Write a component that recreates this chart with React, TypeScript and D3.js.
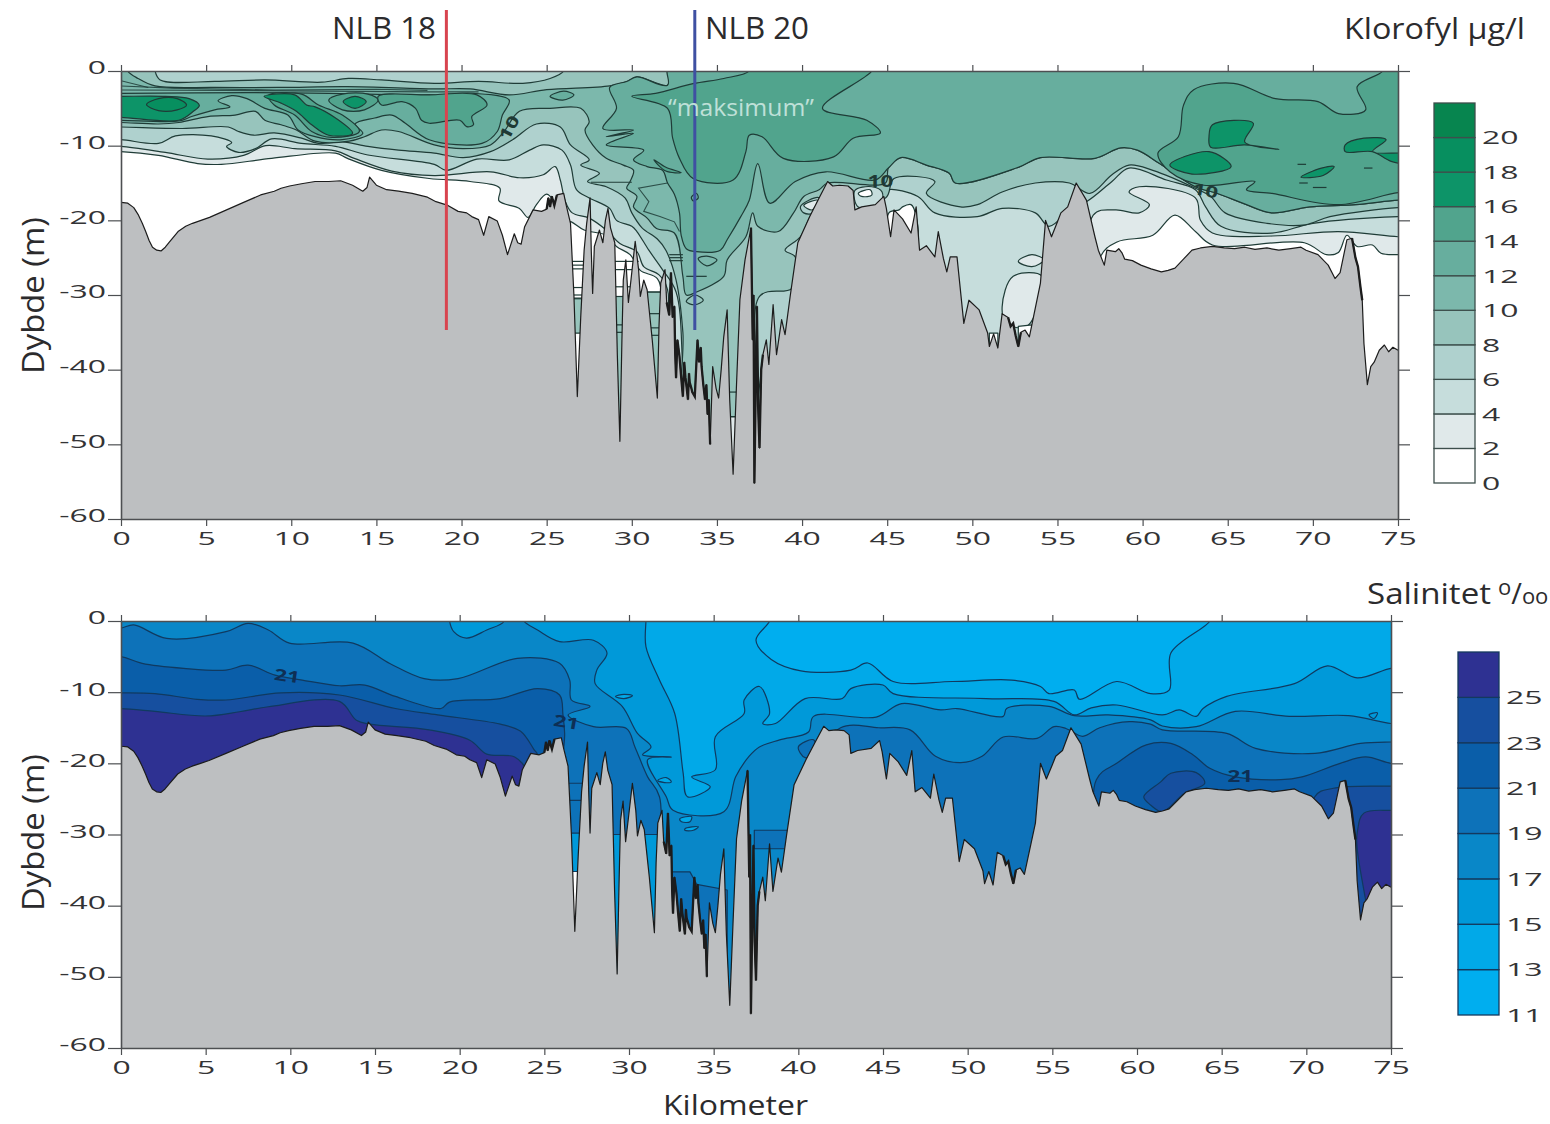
import React, { useEffect, useRef } from "react";
import * as d3 from "d3";

type Pt = [number, number];

// seabed profile, km along the section and depth in metres
const seabed: Pt[] = [
  [0, 17.6], [0.4, 17.7], [0.75, 18.3], [1, 19.2], [1.25, 20.4], [1.45, 21.5], [1.65, 22.7], [1.85, 23.6], [2.1, 24], [2.35, 24.1], [2.6, 23.6], [2.85, 22.9], [3.35, 21.5],
  [3.8, 20.8], [4.2, 20.4], [4.7, 20], [5.2, 19.6], [6.2, 18.6], [7.2, 17.6], [8.2, 16.6], [9, 16.1], [9.4, 15.7], [9.9, 15.4], [10.6, 15.1], [11.4, 14.8],
  [12.2, 14.8], [12.9, 14.7], [13.6, 15.3], [14.2, 16.1], [14.45, 15.6], [14.6, 14.2], [15, 15.3], [15.6, 15.9], [16.3, 16.1], [17.1, 16.4],
  [18, 16.9], [18.5, 17.5], [19.2, 18], [19.8, 18.8], [20.3, 19], [20.6, 19.5], [21, 19.9], [21.3, 22], [21.6, 19.5], [22.1, 20.1],
  [22.4, 22], [22.7, 24.6], [23.1, 21.8], [23.3, 23], [23.5, 23.2], [23.7, 20.9], [24.2, 18.6], [24.7, 18.8], [25, 18.5], [25.1, 17],
  [25.2, 18.2], [25.3, 16.8], [25.45, 18], [25.6, 16.6], [26, 16.4], [26.15, 18], [26.4, 20.4], [26.6, 30], [26.8, 43.6], [27, 33],
  [27.2, 24], [27.35, 20.4], [27.55, 17], [27.62, 24], [27.7, 29.8], [27.8, 23.5], [28.1, 21.3], [28.3, 23], [28.45, 20], [28.6, 18.4],
  [28.75, 21], [29, 23], [29.15, 38], [29.3, 49.6], [29.42, 36], [29.5, 28], [29.65, 25.3], [29.8, 31], [29.95, 28], [30.2, 22.8],
  [30.4, 26.6], [30.5, 30.2], [30.7, 28], [30.9, 29.3], [31.2, 36], [31.5, 43.8], [31.6, 34], [31.7, 28.4], [31.95, 26.6], [32.05, 31], [32.2, 32.7],
  [32.3, 27], [32.4, 33], [32.5, 31.5], [32.55, 38], [32.6, 41.1], [32.68, 36], [32.8, 38.2], [32.9, 41], [33, 43.6], [33.08, 39], [33.15, 41], [33.3, 44], [33.36, 40.5], [33.4, 41.7], [33.5, 42.5], [33.55, 43], [33.7, 43.6],
  [33.86, 36], [33.95, 39], [34.05, 37], [34.1, 39.6], [34.2, 42], [34.3, 44], [34.38, 42], [34.45, 46], [34.52, 44], [34.6, 50], [34.75, 39.6], [34.95, 42.5], [35.1, 43.8], [35.25, 40], [35.4, 35.6],
  [35.6, 32], [35.75, 44], [35.95, 54], [36.15, 42], [36.35, 30.6], [36.65, 25.3], [37, 21], [37.1, 36], [37.15, 30], [37.2, 55.2], [37.28, 42], [37.35, 31.5], [37.42, 45],
  [37.5, 50.5], [37.6, 40], [37.7, 38], [37.9, 36], [38.05, 39.3], [38.3, 31.3], [38.5, 38], [38.8, 33.3], [39, 35.3], [39.3, 30.2], [39.75, 23],
  [40.45, 19.5], [41, 17], [41.5, 14.8], [41.8, 15.4], [42.2, 15.3], [42.7, 15.4], [43, 16], [43.1, 18.6], [43.5, 18.2], [44.3, 17.9],
  [44.8, 16.8], [44.95, 18.4], [45.2, 22.2], [45.4, 18.6], [45.9, 19.8], [46.4, 21.7], [46.7, 18.2], [46.9, 24], [47.3, 23.4], [47.8, 24.9],
  [48, 21.5], [48.3, 25.1], [48.5, 26.9], [48.7, 24.9], [49.1, 24.9], [49.5, 33.8], [49.8, 30.7], [50.4, 32], [50.9, 35.1], [51, 36.9], [51.25, 35.2],
  [51.5, 37.1], [51.75, 32.5], [52.1, 33], [52.25, 34.2], [52.4, 33.8], [52.55, 35.5], [52.7, 36.9], [52.85, 35], [53.1, 34.7], [53.35, 35.6], [54, 28.4], [54.3, 20], [54.65, 22.2],
  [55, 20.2], [55.2, 19], [55.6, 18.2], [56.1, 15], [56.7, 17.3], [57.2, 22.2], [57.4, 24], [57.75, 26], [57.9, 24], [58.4, 24.2], [58.6, 23.8], [58.8, 24.4],
  [58.95, 25.2], [59.4, 25.4], [59.9, 26], [60.5, 26.5], [61.1, 26.9], [61.5, 26.7], [61.9, 26.4], [62.4, 25.2], [62.9, 24], [63.4, 23.7], [64.1, 23.5], [64.8, 23.7], [65.4, 23.8],
  [66, 23.6], [66.6, 23.9], [67.3, 23.7], [68, 24], [68.7, 23.8], [69.3, 23.6], [69.6, 24], [70.3, 24.6], [70.9, 26], [71.3, 27.8], [71.6, 27], [72, 22.6], [72.3, 22.4], [72.5, 25], [72.65, 26.2],
  [72.8, 29], [72.9, 30.7], [73, 36.5], [73.2, 42], [73.4, 39.6], [73.6, 39], [73.9, 37.4], [74.2, 36.7], [74.45, 37.6], [74.7, 37], [75, 37.4],
];
const seabedHeavy: Pt[] = [[25, 25.7], [32, 34.7], [37, 37.7], [51.9, 53], [72.2, 72.9]];

const chlLevels = [0, 2, 4, 6, 8, 10, 12, 14, 16, 18, 20];
const chlColors = ["#ffffff", "#e0e9ea", "#c6dddc", "#afd1ce", "#97c4bc", "#7cb8ac", "#67ae9e", "#51a48d", "#0d9468", "#078f5f", "#07854f"];
const salLevels = [11, 13, 15, 17, 19, 21, 23, 25];
const salColors = ["#00aeef", "#01a9e8", "#0099d9", "#0987c8", "#0d72b9", "#0a5ea9", "#164f9f", "#2e3192"];
const kmTicks = d3.range(0, 80, 5);
const depthTicks = d3.range(0, 70, 10);

// chlorophyll contours, lower edge of everything at or above the level
const chl2: Pt[] = [[-1, 10.8], [0, 10.8], [2.2, 11.3], [4.5, 12.4], [5.9, 12.5], [8.85, 11.7], [12.6, 11], [13.3, 11.7], [15.3, 13.3], [18.1, 14.4], [20.5, 14.8], [22.25, 15.7], [22.2, 17.4], [23.4, 18.4], [23.9, 19.6], [24.4, 17.9], [25, 16.5], [25.6, 18], [26.1, 20], [26.45, 20.2], [27.2, 21.3], [28.5, 22], [29.1, 23.5], [29.9, 24.6], [30.5, 26.7], [31.5, 27.8], [31.8, 31], [32, 60], [57.4, 60], [57.5, 25], [58.5, 22.9], [60.6, 22], [61.9, 19.3], [63.1, 21.5], [64.1, 23.3], [69.5, 23], [70.8, 24.6], [71.5, 24.3], [72, 22], [72.6, 23.5], [73.5, 23.3], [74, 24.4], [75, 24.6], [76, 24.6]];
const chl4: Pt[] = [[-1, 10.1], [0, 10.1], [2.6, 10.9], [5.1, 11.8], [7.2, 11.3], [8.5, 10], [10.2, 10.4], [12.6, 10.7], [13.7, 11.7], [15.9, 13.4], [18.4, 14], [21.7, 13.5], [23.4, 14.3], [24.8, 13.9], [25.5, 12.8], [25.8, 14.6], [26.1, 17.5], [26.5, 19], [27.5, 19.7], [28.5, 21.3], [29.3, 23.1], [30.3, 24.2], [30.7, 26.2], [31.6, 27.3], [32.1, 29.3], [32.3, 60], [57, 60], [57.1, 19.3], [58.4, 18.6], [59.8, 19], [60.4, 17.9], [59.2, 16.2], [59.8, 15.5], [63.1, 17], [63.4, 20], [64.1, 21.7], [67.6, 22.1], [71.5, 21.5], [75, 22.2], [76, 22.2]];
const chl6: Pt[] = [[-1, 9.2], [0, 9.2], [2.2, 9.7], [3.2, 8.7], [5.3, 8.7], [6.5, 9.6], [6.2, 10.1], [6.9, 10.9], [7.9, 10.4], [8.85, 9.1], [10.6, 9.7], [12.6, 10.1], [14.5, 11.25], [18.4, 12.5], [19.1, 13.3], [20.9, 11.8], [22.8, 11.9], [24, 10.6], [24.8, 9.9], [25.9, 10.6], [26.4, 12.6], [26.75, 15.9], [27.5, 17], [28.7, 18.4], [29.1, 20], [30, 20.8], [30.3, 21.5], [31, 24], [31.8, 26.6], [32.6, 29.6], [33, 40], [33.4, 60], [41, 60], [41, 19], [44.8, 16.5], [45.07, 15.9], [46.8, 16.8], [47.8, 19], [50.3, 19.5], [51.75, 18.4], [53.7, 19], [54.5, 20.8], [56, 18], [56.7, 17.5], [58.2, 14.8], [59.2, 13], [61.4, 14.6], [63.1, 15.9], [63.7, 18.2], [64.6, 20.8], [67.6, 21.7], [70, 20.4], [75, 19.5], [76, 19.5]];
const chl8: Pt[] = [[-1, 7.5], [0, 7.5], [3.6, 7.7], [6.3, 7.5], [6.9, 8.1], [7.8, 8.6], [9, 8.3], [10.6, 9], [11.6, 9.7], [13, 9.5], [14.5, 10.1], [16.3, 10.6], [18.4, 11], [20.1, 11.6], [21.7, 10.8], [23, 9.2], [24.4, 7.1], [25.8, 7.5], [26.4, 9.9], [27.5, 11.9], [27, 12.6], [28.1, 13.7], [27.4, 14.8], [28.5, 15.5], [29.6, 17], [30, 19], [30.6, 21], [31.5, 22.5], [32, 24], [32.6, 28], [33, 35], [33.2, 60], [37.5, 60], [37.5, 30.2], [39.4, 29.1], [39.6, 24.9], [39, 24], [39.9, 22.2], [40.6, 19], [41.5, 17], [44.9, 17], [45.4, 14.4], [47.8, 14.8], [47.3, 16.4], [49.3, 18.2], [50.3, 17.9], [51.75, 16.2], [53.7, 15], [55.7, 15], [56.9, 16.4], [58.2, 13.9], [59.2, 12.6], [60.6, 13.3], [63.1, 15.7], [64, 16.8], [64.85, 19], [67.3, 20.4], [69.55, 20.6], [71, 19.5], [75, 18.3], [76, 18.3]];
// shared eastern stretch of the 10 and 12 lines
const chlEast: Pt[] = [[45.07, 13], [45.8, 11.6], [47.3, 12.6], [48.65, 13.7], [49, 15], [52.7, 12.9], [54, 11.6], [57.2, 11.7], [58.7, 10.3], [59.7, 10.6], [61, 12.4], [63.1, 15.5], [64.4, 16.4], [66.1, 17.9], [67.6, 19], [69.8, 18.2], [72.5, 17.9], [75, 17.3], [76, 17.3]];
const chl10: Pt[] = [[-1, 6.9], [0, 6.9], [2.2, 7.1], [3.4, 6.9], [5.1, 6.1], [6.7, 5.9], [7.9, 5.4], [8.45, 6.6], [9.4, 7.2], [10.3, 7.9], [11.4, 9.4], [13.4, 9.4], [14.3, 8.8], [15.3, 7.9], [16.3, 8.1], [18.4, 9.9], [20.1, 10.4], [21.7, 9.9], [22.5, 8.1], [23.4, 5.4], [25.2, 5], [27, 5], [27.5, 6.8], [27.25, 7.9], [27.7, 9.9], [28.5, 11.7], [29.5, 12.6], [30.1, 13.3], [29.9, 14.8], [29.7, 15.7], [30.3, 16.8], [30.1, 18.2], [30.9, 19.7], [31.45, 21.1], [32.5, 21.7], [33, 27.5], [33.2, 30], [33.8, 29.6], [35.4, 27.5], [35.6, 25.3], [36.7, 22.2], [37.1, 19], [37.4, 20.8], [38.6, 21.5], [39.5, 19], [40.1, 16.8], [41, 15.9], [41.5, 15], [44.9, 15], ...chlEast];
const chl12Center: Pt[] = [[32.2, -1], [32.1, 1.9], [30.3, 0.8], [29.7, 1.4], [28.7, 2.2], [29.1, 5], [28.3, 7.7], [30.1, 7.9], [28.5, 8.8], [30.1, 8.35], [28.5, 9.9], [30.7, 10.6], [30.1, 11.9], [30.9, 12.8], [31.8, 13.3], [32.1, 15], [32.5, 16.5], [32.8, 19], [32.9, 22], [33.2, 23.8], [33.8, 24.2], [35.2, 24], [35.6, 22.6], [36.4, 19.5], [36.9, 17.3], [37.4, 12.4], [38.1, 17.7], [39.6, 14.8], [41.4, 13.5], [44.3, 14.6], ...chlEast, [76, -1]];
const chl12West: Pt[] = [[-1, 3], [0, 3], [7.5, 2.9], [12.2, 3], [18.4, 3.2], [20.7, 3], [22.8, 3.9], [22.4, 5.9], [22.1, 8.1], [21.2, 9.7], [18.1, 9.2], [16.7, 7], [15.9, 5.9], [14.9, 6.3], [13.75, 7.1], [14.2, 8.35], [13, 9.2], [11.4, 8.8], [10.4, 7.9], [9.8, 5.9], [8.45, 5], [7.4, 3.7], [6.5, 3.3], [5.7, 4], [6.4, 4.8], [5.5, 5.2], [4.15, 6.1], [3.4, 6.7], [0, 6.6], [-1, 6.6]];
const chl14West: Pt[] = [[-1, 3.4], [0, 3.4], [2.6, 3.4], [4, 3.7], [4.6, 4.6], [4.25, 5.4], [3.4, 6.6], [0, 6.2], [-1, 6.2]];
const chl14Mid: Pt[] = [[8.65, 3.3], [10.6, 3.1], [11.6, 4.55], [13, 5.9], [14, 8.1], [12.4, 8.9], [11.2, 8.1], [10.2, 5.9], [9, 4.55]];
const chl14Oval: Pt[] = [[12.2, 3.9], [13, 3.1], [14.5, 3.1], [15.1, 3.9], [14.3, 5.2], [13, 5.2]];
const chl14Lobe: Pt[] = [[15.1, 3.4], [18.1, 3.2], [20.9, 3.2], [21.5, 4.55], [20.6, 6.1], [20.7, 7.2], [20.3, 7.45], [19.9, 6.6], [18.1, 7], [17.65, 6.6], [17.3, 5], [16.5, 4.1], [15.3, 4.55]];
const chl14Center: Pt[] = [[36.9, -1], [36.9, 0], [35.4, 1], [33.6, 1.7], [31.4, 3], [30, 3.4], [32.1, 5], [32.4, 9], [32.8, 11.7], [33.6, 14.4], [35.95, 14.6], [36.7, 10.8], [36.9, 8.6], [37.65, 8.8], [38.9, 11.7], [41.85, 11.5], [43, 9], [44.6, 8.3], [43.8, 6.6], [41.2, 5], [44.1, 0], [44.2, -1]];
const chl14East: Pt[] = [[74.1, -1], [74.1, 0], [72.6, 2.1], [73.1, 5.2], [71.5, 5.7], [70.3, 4.1], [67.8, 3.7], [65.35, 1.65], [63, 2.5], [62.4, 4.6], [62.1, 8.8], [60.9, 11], [61.6, 13.5], [63.6, 15.3], [66.6, 14.8], [66.1, 15.9], [67.6, 16.4], [71.5, 17.9], [75, 16.3], [76, 16.3], [76, -1]];
const chl16West: Pt[] = [[1.5, 4.5], [2.2, 3.7], [3.3, 3.7], [3.85, 4.55], [3.3, 5.2], [2.2, 5.3]];
const chl16Mid: Pt[] = [[8.4, 3.4], [10.2, 3.2], [10.9, 4.55], [11.4, 4.8], [12.6, 6.3], [13.6, 8.35], [12.2, 8.6], [11.2, 7.2], [10.3, 5.4], [9.4, 4.3]];
const chl16Oval: Pt[] = [[13.05, 4.1], [13.75, 3.4], [14.4, 4.1], [13.75, 5]];
const chl16BlobA: Pt[] = [[64.1, 7.2], [66.5, 7], [66, 9.5], [68, 10.5], [66, 9.9], [64, 10.2], [63.9, 8.8]];
const chl16BlobB: Pt[] = [[61.6, 12.6], [63.9, 10.8], [65.2, 12.8], [62.9, 13.8]];
const chl16BlobC: Pt[] = [[71.9, 9.9], [73, 9], [74.3, 9.2], [73.5, 10.8], [76, 11.25], [76, 12.4], [74.6, 12.1], [73.5, 10.8], [71.9, 10.8]];
const chl16BlobD: Pt[] = [[69.3, 14.2], [70.5, 13], [71.25, 12.8], [70.6, 14]];
// pale surface water
const chlSurface8: Pt[] = [[0.4, -1], [0.4, 0], [1, 1], [2, 2], [5.5, 2.2], [9.4, 2.2], [13.3, 2.1], [18.4, 2.4], [20.5, 2.4], [22.8, 3.2], [25, 2.5], [28.7, 2], [29.7, 1.4], [30.3, 0.8], [32.1, 1.9], [32.2, 0], [32.2, -1]];
const chlSurface6: Pt[] = [[2, -1], [2, 0], [2.3, 1.2], [5.5, 1.4], [8.45, 1.2], [11.8, 1.5], [13.35, 1], [15.3, 1.2], [18.4, 1.65], [21, 1.4], [23.6, 1.65], [25.2, 1], [26, 0], [26, -1]];
// small closed pockets
const chlPocketA: Pt[] = [[25.2, 3.4], [26, 2.7], [26.6, 3.2], [25.95, 3.9]];
const chlLensA: Pt[] = [[33.9, 25.1], [34.4, 24.8], [35, 25.3], [34.4, 26.1]];
const chlLensB: Pt[] = [[33.2, 30.9], [33.7, 30], [34.2, 30.7], [33.7, 31.3]];
const chlRing: Pt[] = [[33.5, 16.9], [33.8, 16.4], [33.9, 17], [33.6, 17.4]];
const chlLensC: Pt[] = [[31.3, 11.9], [32, 12.9], [32.9, 13.6], [32, 13.4]];
const chlHoleA: Pt[] = [[43.1, 16], [44.1, 15.5], [44.7, 16.2], [44.6, 17.7], [43.3, 18.2]];
const chlHoleB: Pt[] = [[43.3, 16.4], [44, 15.9], [44.1, 16.6], [43.5, 16.8]];
const chlHoleC: Pt[] = [[45.1, 19], [45.7, 18.6], [45.9, 18.2], [46.4, 17.9], [46.7, 19.5], [46.7, 23], [45.2, 22.6]];
const chlTipA: Pt[] = [[39.9, 18.2], [40.4, 17.3], [41, 17], [40.7, 19], [40.1, 19]];
const chlTipB: Pt[] = [[40.1, 18], [40.9, 17.3], [40.6, 18.6]];
const chlBasin: Pt[] = [[52.4, 27.5], [54.1, 27.5], [53.2, 34.2], [52, 33.8], [51.75, 31.6]];
const chlOval: Pt[] = [[52.7, 25.5], [53.5, 24.6], [54.2, 25.3], [53.5, 26.2]];
const chlGapA: Pt[] = [[51, 35.1], [51.5, 35.1], [51.5, 40], [51, 40]];
const chlGapB: Pt[] = [[52.7, 34.2], [53.5, 34], [53.4, 40], [52.7, 40]];
const chlCanyonA: Pt[] = [[26, 30.4], [28, 30.4], [28, 35.1], [26, 35.1]];
const chlCanyonB: Pt[] = [[28.9, 30.2], [30.2, 30.2], [30.2, 60], [28.9, 60]];
const chlCanyonC: Pt[] = [[30.9, 29.6], [32, 29.6], [32, 60], [30.9, 60]];
const chlCanyonD: Pt[] = [[35.5, 46.3], [36.4, 46.3], [36.4, 60], [35.5, 60]];
// [from km, to km, depth]
const chlStripes: [number, number, number][] = [
  [26, 27.4, 25.5], [26, 27.4, 26], [26, 27.4, 26.5], [26, 27.4, 29], [26, 27.4, 30], [26, 27.4, 30.5],
  [28.9, 30.4, 25.5], [28.9, 30.4, 26.6], [28.9, 30.4, 28.9], [28.9, 30.4, 30.2], [29, 30.3, 34], [29, 30.3, 35],
  [30.9, 32, 29.6], [30.9, 32, 32.5], [30.9, 32, 34.4], [30.9, 32, 35.4],
  [32.2, 33, 24.6], [32.2, 33, 25], [32.2, 33, 25.4], [33.2, 34.4, 27.5],
  [35.6, 36.3, 43], [35.7, 36.2, 46.3], [27.6, 30, 14.9],
  [69.1, 69.6, 12.5], [69.2, 69.7, 15], [73, 73.5, 13], [70, 70.8, 15.6],
];
const chlLoose: Pt[][] = [
  [[0, 2.55], [6, 2.6], [12, 2.7], [18, 2.8], [21, 2.8]],
  [[0, 2], [3, 2.3], [9, 2.55], [15, 2.45], [18, 2.6]],
  [[0, 1.3], [1.6, 2.2]],
  [[32.1, 15], [30.4, 15.7], [31, 17.5], [30.7, 18.8], [31.65, 19.5], [32.5, 20.2], [32.8, 21.5]],
];

// salinity contours, lower edge of everything fresher than the level
const sal25: Pt[] = [[-1, 12.3], [0, 12.3], [2, 12.7], [5, 13.35], [7, 12.75], [8.7, 12.05], [12.9, 11.3], [13.9, 13.95], [14.7, 14.5], [18.2, 15.3], [20.6, 16.75], [21.6, 18.7], [23.25, 19.1], [23.9, 20.9], [23.7, 21.4], [24, 60], [72.8, 60], [73, 29.8], [73.4, 27], [75, 26.6], [76, 26.6]];
const sal23: Pt[] = [[-1, 10.1], [0, 10.1], [2, 10.2], [4.5, 11], [6.2, 11.1], [9.45, 10.1], [12.9, 10.4], [16.2, 12.3], [18.7, 13.2], [22.4, 14.5], [23.6, 15.5], [24.4, 18.1], [24.6, 18.8], [24.7, 60], [70, 60], [70.5, 24.7], [71.6, 23.5], [75, 23.2], [76, 23.2]];
const sal21: Pt[] = [[-1, 5], [0, 5], [1.25, 5.95], [3.7, 6.65], [6.2, 6.9], [7.5, 6.2], [9.1, 7.6], [10.7, 8.3], [12.9, 9.1], [14.4, 9], [16.2, 10.6], [18.9, 12.3], [19.4, 11.4], [22.4, 10.9], [24.6, 9.5], [25.9, 10.4], [26.1, 13.2], [26.2, 15.8], [26.25, 60], [57.1, 60], [57.6, 22.3], [58.8, 20], [60.55, 17.4], [62, 17.2], [63.3, 18.8], [64.3, 20.7], [65.8, 21.9], [68.5, 22.3], [69.75, 21.9], [72, 20], [73.5, 19.1], [75, 20], [76, 20]];
const sal19: Pt[] = [[-1, 1], [0, 1], [0.75, 0.55], [2.7, 2.45], [6.2, 1.5], [7.5, 0.33], [8.7, 1.26], [9.95, 3.1], [13.7, 3.1], [15.9, 6], [17.9, 8.1], [19.9, 8.1], [23.4, 5.25], [25.9, 5.95], [26.5, 8.3], [26.6, 11.1], [27.7, 12], [26.4, 13.2], [27.9, 14.85], [29.85, 15.1], [30.35, 17.7], [31.1, 21.9], [31.8, 24.7], [32, 60], [40, 60], [40.5, 22], [42.5, 15], [44.75, 15], [46.6, 15.3], [48.1, 19], [49.6, 19.9], [50.85, 19], [52.1, 16.3], [54.1, 16.5], [55.1, 14.85], [55.8, 15.1], [56.8, 16.2], [57.8, 15], [59.55, 14.15], [60.8, 14.5], [61.5, 15.3], [65.3, 15.8], [67, 17.9], [70.5, 18.6], [73.2, 17.2], [75, 17], [76, 17]];
const sal17: Pt[] = [[23.8, -1], [23.8, 0], [24.6, 1.26], [25.9, 2.9], [27.9, 2.7], [28.7, 4.5], [28.1, 6.9], [28, 8.8], [29.6, 12], [30.5, 15.8], [31.3, 17.7], [30.8, 18.8], [32.5, 19.1], [31.1, 19.5], [32.2, 24.7], [32.6, 26.6], [35.6, 26.8], [36.3, 21.9], [37.1, 19], [37.7, 17.7], [38.9, 16.7], [40.6, 15.6], [40.9, 13.4], [44.6, 13.5], [46.1, 11.6], [48.4, 12.5], [49.35, 12.3], [52.1, 13.4], [52.3, 12.3], [54.8, 12], [56.3, 13.3], [58.3, 13.2], [60.8, 13.9], [61.5, 14.75], [63.5, 14.85], [65.8, 12.7], [69, 13.4], [72.5, 13.3], [75, 14.4], [76, 14.4], [76, -1]];
const sal15: Pt[] = [[31, -1], [31, 0], [31, 3.6], [31.8, 8.3], [32.7, 13], [33.2, 21.4], [33.45, 24.7], [34.8, 23.3], [33.7, 21.9], [35.1, 20.9], [35.1, 16.25], [36.8, 13], [36.8, 11.1], [37.7, 9.2], [38.3, 13], [37.9, 14.4], [38.65, 14.4], [40.4, 10.9], [42.6, 10.9], [43.1, 9.5], [45, 9], [45.6, 10.2], [51.1, 10.9], [55.1, 11.3], [56.3, 13.2], [57.3, 12.2], [58.8, 11.8], [61.5, 13.2], [62.5, 12.5], [63.5, 13.4], [63.9, 12.3], [65.3, 10.6], [69.3, 8.8], [71.25, 6.3], [73, 8], [75, 6.65], [76, 6.65], [76, -1]];
const sal13: Pt[] = [[38.3, -1], [38.3, 0], [37.5, 2.7], [38.4, 5.4], [40.15, 7], [43.1, 6.9], [44.1, 5.9], [45.6, 8.5], [49.1, 8.5], [52.6, 8.3], [54.3, 9.2], [54.8, 10.2], [56.3, 9.7], [56.6, 11], [58.8, 8.5], [60.8, 10.2], [61.9, 9.7], [62, 4.5], [64.3, 0], [64.3, -1]];
const salPatchTop: Pt[] = [[19.4, -1], [19.4, 0], [19.65, 1.5], [20.4, 2.4], [21.6, 1.26], [22.6, 0.1], [22.6, -1]];
const salLensA: Pt[] = [[29.2, 10.6], [29.7, 10.3], [30.2, 10.5], [29.7, 10.9]];
const salLensB: Pt[] = [[31.7, 22.4], [32.2, 22], [32.5, 22.6], [32.1, 22.7]];
const salLensC: Pt[] = [[33, 27.8], [33.7, 27.5], [33.6, 28.2], [33.1, 28.2]];
const salLensD: Pt[] = [[33.3, 29.2], [34.1, 28.9], [33.8, 29.4], [33.3, 29.4]];
const salRing: Pt[] = [[73.7, 13.2], [74.2, 12.9], [74, 13.7]];
const salTip: Pt[] = [[40, 17.7], [40.9, 16.7], [41, 18.5], [40.4, 19.2]];
const salBlob: Pt[] = [[60.4, 24.7], [61.4, 22.6], [62, 21.4], [63.5, 21.3], [64, 22.8], [62.8, 24.2], [61.5, 26.8], [60.8, 25.85]];
const salCanyonA: Pt[] = [[26, 22.8], [27.5, 22.8], [27.5, 25.2], [26, 25.2]];
const salCanyonB: Pt[] = [[26, 29.8], [27.5, 29.8], [27.5, 35.2], [26, 35.2]];
const salCanyonTip: Pt[] = [[26, 35.2], [27.5, 35.2], [27.5, 60], [26, 60]];
const salCanyonC: Pt[] = [[28.9, 30], [30.2, 30], [30.2, 60], [28.9, 60]];
const salCanyonD: Pt[] = [[30.9, 30], [32, 30], [32, 60], [30.9, 60]];
const salDeepA: Pt[] = [[32, 35.25], [33.6, 35.25], [34, 37], [35.8, 37.8], [35.8, 60], [32, 60]];
const salDeepB: Pt[] = [[37.4, 29.4], [39.4, 29.4], [39.4, 32], [37.4, 32]];

type Layer = { pts: Pt[]; band: number; open?: boolean; sharp?: boolean; color?: string };

const chlLayers: Layer[] = [
  { pts: chl2, band: 1, open: true }, { pts: chl4, band: 2, open: true }, { pts: chl6, band: 3, open: true },
  { pts: chl8, band: 4, open: true }, { pts: chl10, band: 5, open: true },
  { pts: chlSurface8, band: 4 }, { pts: chlSurface6, band: 3 }, { pts: chlPocketA, band: 6 },
  { pts: chl12West, band: 6 }, { pts: chl12Center, band: 6 },
  { pts: chl14West, band: 8 }, { pts: chl14Mid, band: 7 }, { pts: chl14Oval, band: 7 }, { pts: chl14Lobe, band: 7 },
  { pts: chl14Center, band: 7 }, { pts: chl14East, band: 7 },
  { pts: chl16West, band: 9 }, { pts: chl16Mid, band: 8 }, { pts: chl16Oval, band: 8 },
  { pts: chl16BlobA, band: 8 }, { pts: chl16BlobB, band: 8 }, { pts: chl16BlobC, band: 8 }, { pts: chl16BlobD, band: 8 },
  { pts: chlLensA, band: 5 }, { pts: chlLensB, band: 4 }, { pts: chlRing, band: 6 }, { pts: chlLensC, band: 7 },
  { pts: chlHoleA, band: 2 }, { pts: chlHoleB, band: 0 }, { pts: chlHoleC, band: 0 }, { pts: chlTipA, band: 3 }, { pts: chlTipB, band: 1 },
  { pts: chlBasin, band: 1 }, { pts: chlOval, band: 1 }, { pts: chlGapA, band: 0, sharp: true }, { pts: chlGapB, band: 0, sharp: true },
  { pts: chlCanyonA, band: 4, sharp: true }, { pts: chlCanyonB, band: 4, sharp: true }, { pts: chlCanyonC, band: 4, sharp: true }, { pts: chlCanyonD, band: 1, sharp: true },
];

const salLayers: Layer[] = [
  { pts: sal25, band: 6, open: true }, { pts: sal23, band: 5, open: true }, { pts: sal21, band: 4, open: true }, { pts: sal19, band: 3, open: true },
  { pts: salDeepA, band: 4, sharp: true }, { pts: salDeepB, band: 4, sharp: true },
  { pts: sal17, band: 2 }, { pts: sal15, band: 1 }, { pts: sal13, band: 0 }, { pts: salPatchTop, band: 2 },
  { pts: salLensA, band: 1 }, { pts: salLensB, band: 1 }, { pts: salLensC, band: 1 }, { pts: salLensD, band: 1 }, { pts: salRing, band: 2 },
  { pts: salTip, band: 4 }, { pts: salBlob, band: 6 },
  { pts: salCanyonA, band: 4, sharp: true }, { pts: salCanyonB, band: 2, sharp: true }, { pts: salCanyonC, band: 2, sharp: true }, { pts: salCanyonD, band: 2, sharp: true },
  { pts: salCanyonTip, band: 0, sharp: true, color: "#ffffff" },
];

const WIDE = 1.68;
const TICK_FONT = "'Open Sans', sans-serif";
const TITLE_FONT = "'Open Sans', sans-serif";
const INK = "#333335";

function drawPanel(
  svg: d3.Selection<SVGSVGElement, unknown, null, undefined>,
  id: string,
  xRange: Pt,
  yRange: Pt,
  layers: Layer[],
  colors: string[],
  baseColor: string,
  lineColor: string,
  stripes: [number, number, number][],
  loose: Pt[][],
) {
  const x = d3.scaleLinear().domain([0, 75]).range(xRange);
  const y = d3.scaleLinear().domain([0, 60]).range(yRange);

  svg.append("clipPath").attr("id", id).append("rect")
    .attr("x", xRange[0]).attr("y", yRange[0])
    .attr("width", xRange[1] - xRange[0]).attr("height", yRange[1] - yRange[0]);

  const plot = svg.append("g").attr("clip-path", `url(#${id})`);
  plot.append("rect").attr("x", xRange[0]).attr("y", yRange[0])
    .attr("width", xRange[1] - xRange[0]).attr("height", yRange[1] - yRange[0]).attr("fill", baseColor);

  const smooth = d3.line<Pt>().x((d) => x(d[0])).y((d) => y(d[1])).curve(d3.curveCatmullRomClosed.alpha(0.5));
  const straight = d3.line<Pt>().x((d) => x(d[0])).y((d) => y(d[1]));

  layers.forEach((l) => {
    const pts: Pt[] = l.open ? [...l.pts, [76, -1], [-1, -1]] : l.pts;
    plot.append("path")
      .attr("d", (l.sharp ? straight(pts) + "Z" : smooth(pts)) as string)
      .attr("fill", l.color ?? colors[l.band])
      .attr("stroke", lineColor)
      .attr("stroke-width", 1.2)
      .attr("stroke-linejoin", "round");
  });

  stripes.forEach(([a, b, d]) => {
    plot.append("line").attr("x1", x(a)).attr("x2", x(b)).attr("y1", y(d)).attr("y2", y(d))
      .attr("stroke", lineColor).attr("stroke-width", 1.2);
  });
  loose.forEach((pts) => {
    plot.append("path").attr("d", straight(pts) as string).attr("fill", "none")
      .attr("stroke", lineColor).attr("stroke-width", 1.1).attr("opacity", 0.85);
  });

  // seabed goes over every contour
  const bed: Pt[] = [[-1, 61], [-1, seabed[0][1]], ...seabed, [76, seabed[seabed.length - 1][1]], [76, 61]];
  plot.append("path").attr("d", straight(bed) + "Z").attr("fill", "#bdbfc1");
  plot.append("path").attr("d", straight(seabed) as string).attr("fill", "none")
    .attr("stroke", "#1c1c1c").attr("stroke-width", 1.2).attr("stroke-linejoin", "round");
  seabedHeavy.forEach(([a, b]) => {
    const seg = seabed.filter((p) => p[0] >= a && p[0] <= b);
    plot.append("path").attr("d", straight(seg) as string).attr("fill", "none")
      .attr("stroke", "#1c1c1c").attr("stroke-width", 2.3);
  });

  // frame and axes
  const addAxis = (axis: d3.Axis<d3.NumberValue>, tx: number, ty: number) => {
    const g = svg.append("g").attr("transform", `translate(${tx},${ty})`).call(axis as any);
    g.select(".domain").attr("stroke", "#4d4f52").attr("stroke-width", 1.6);
    g.selectAll(".tick line").attr("stroke", "#4d4f52").attr("stroke-width", 1.2);
    return g;
  };
  const noLabel = () => "";
  addAxis(d3.axisTop(x).tickValues(kmTicks).tickSize(6).tickSizeOuter(0).tickFormat(noLabel), 0, yRange[0]);
  addAxis(d3.axisRight(y).tickValues(depthTicks).tickSize(12).tickSizeOuter(0).tickFormat(noLabel), xRange[1], 0);

  const bottom = addAxis(d3.axisBottom(x).tickValues(kmTicks).tickSize(7).tickSizeOuter(0).tickFormat((d) => String(d)), 0, yRange[1]);
  bottom.selectAll("text")
    .attr("font-family", TICK_FONT).attr("font-size", 19).attr("fill", INK).attr("y", 13)
    .attr("transform", `scale(${WIDE},1)`);

  const left = addAxis(d3.axisLeft(y).tickValues(depthTicks).tickSize(13).tickSizeOuter(0).tickFormat((d) => (d === 0 ? "0" : `-${d}`)), xRange[0], 0);
  left.selectAll("text")
    .attr("font-family", TICK_FONT).attr("font-size", 19).attr("fill", INK).attr("x", -15 / WIDE).attr("dy", "0.15em")
    .attr("transform", `scale(${WIDE},1)`);

  return { x, y };
}

function drawLegend(
  svg: d3.Selection<SVGSVGElement, unknown, null, undefined>,
  levels: number[],
  colors: string[],
  top: number,
  bottom: number,
  left: number,
  right: number,
  lineColor: string,
) {
  const step = levels[1] - levels[0];
  const y = d3.scaleLinear().domain([levels[0], levels[levels.length - 1] + step]).range([bottom, top]);
  levels.forEach((lv, i) => {
    svg.append("rect").attr("x", left).attr("width", right - left)
      .attr("y", y(lv + step)).attr("height", y(lv) - y(lv + step))
      .attr("fill", colors[i]).attr("stroke", lineColor).attr("stroke-width", 1.3);
    svg.append("text")
      .attr("transform", `translate(${right + 7},${y(lv)}) scale(${WIDE},1)`)
      .attr("dy", "0.36em")
      .attr("font-family", TICK_FONT).attr("font-size", 19).attr("fill", INK)
      .text(lv);
  });
}

function label(
  svg: d3.Selection<SVGSVGElement, unknown, null, undefined>,
  text: string,
  px: number,
  py: number,
  size: number,
  length: number,
  rotate = 0,
) {
  svg.append("text")
    .attr("transform", `translate(${px},${py}) rotate(${rotate})`)
    .attr("font-family", TITLE_FONT).attr("font-size", size).attr("fill", "#2b2b2d")
    .attr("textLength", length).attr("lengthAdjust", "spacingAndGlyphs")
    .text(text);
}

function contourLabel(
  svg: d3.Selection<SVGSVGElement, unknown, null, undefined>,
  text: string,
  px: number,
  py: number,
  rotate: number,
  fill: string,
) {
  svg.append("text")
    .attr("transform", `translate(${px},${py}) rotate(${rotate}) scale(1.4,1)`)
    .attr("text-anchor", "middle").attr("dy", "0.36em")
    .attr("font-family", TICK_FONT).attr("font-size", 16).attr("font-weight", 700).attr("fill", fill)
    .text(text);
}

export default function App() {
  const ref = useRef<SVGSVGElement>(null);

  useEffect(() => {
    const svg = d3.select(ref.current as SVGSVGElement);
    svg.selectAll("*").remove();

    const top = drawPanel(svg, "clip-chl", [121, 1398], [71, 519], chlLayers, chlColors, "#ffffff", "#1f3c37", chlStripes, chlLoose);
    const low = drawPanel(svg, "clip-sal", [121, 1391], [621, 1048], salLayers, salColors, salColors[7], "#103a60", [], []);

    // station lines
    svg.append("line").attr("x1", top.x(19.11)).attr("x2", top.x(19.11)).attr("y1", 10).attr("y2", 330)
      .attr("stroke", "#d8444f").attr("stroke-width", 3);
    svg.append("line").attr("x1", top.x(33.7)).attr("x2", top.x(33.7)).attr("y1", 10).attr("y2", 330)
      .attr("stroke", "#3f50a2").attr("stroke-width", 3);

    contourLabel(svg, "10", top.x(22.8), top.y(7.6), -62, "#1f3a35");
    contourLabel(svg, "10", top.x(44.6), top.y(14.7), 0, "#1f3a35");
    contourLabel(svg, "10", top.x(63.7), top.y(16), 10, "#1f3a35");
    contourLabel(svg, "21", low.x(9.8), low.y(7.7), 8, "#0e2f55");
    contourLabel(svg, "21", low.x(26.3), low.y(14.2), 10, "#0e2f55");
    contourLabel(svg, "21", low.x(66.1), low.y(21.8), 0, "#0e2f55");

    label(svg, "NLB 18", 332, 39, 31, 104);
    label(svg, "NLB 20", 705, 39, 31, 104);
    label(svg, "Klorofyl µg/l", 1344, 39, 30, 181);
    label(svg, "Dybde (m)", 44, 374, 31, 157, -90);
    label(svg, "Dybde (m)", 44, 911, 31, 157, -90);
    label(svg, "Kilometer", 663, 1115, 28, 145);

    svg.append("text")
      .attr("x", 668).attr("y", 116)
      .attr("font-family", TITLE_FONT).attr("font-size", 23).attr("fill", "#bfe0d8")
      .attr("textLength", 146).attr("lengthAdjust", "spacingAndGlyphs")
      .text("“maksimum”");

    const sal = svg.append("text").attr("x", 1367).attr("y", 604)
      .attr("font-family", TITLE_FONT).attr("font-size", 29).attr("fill", "#2b2b2d");
    sal.append("tspan").attr("textLength", 124).attr("lengthAdjust", "spacingAndGlyphs").text("Salinitet");
    sal.append("tspan").attr("font-size", 22).attr("dx", 7).attr("dy", -9).text("o");
    sal.append("tspan").attr("font-size", 29).attr("dy", 9).text("/");
    sal.append("tspan").attr("font-size", 22).text("oo");

    drawLegend(svg, chlLevels, chlColors, 103, 483, 1434, 1475, "#3d4f4c");
    drawLegend(svg, salLevels, salColors, 652, 1015, 1458, 1499, "#14395e");
  }, []);

  return (
    <svg
      ref={ref}
      width={1550}
      height={1124}
      style={{ position: "absolute", left: 0, top: 0, display: "block", background: "#fff" }}
    />
  );
}
